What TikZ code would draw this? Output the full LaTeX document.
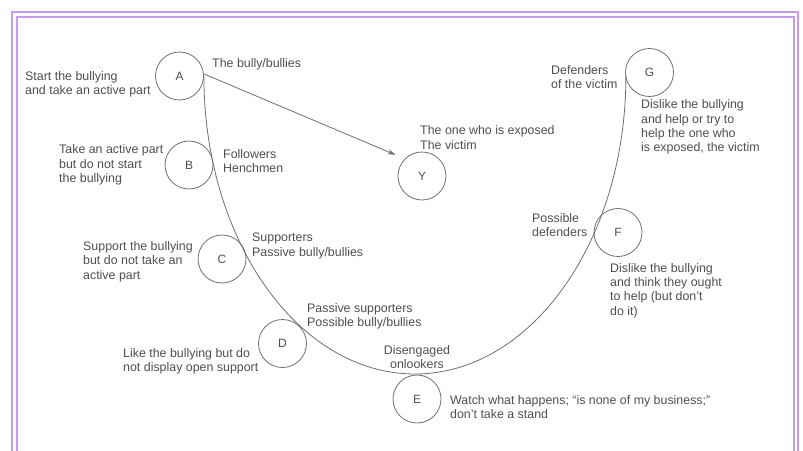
\documentclass[tikz,border=0pt]{standalone}
\usepackage{fontspec}
\setmainfont{Liberation Sans}
\usetikzlibrary{arrows.meta}
\definecolor{framelilac}{RGB}{198,156,242}
\definecolor{inkgray}{RGB}{78,78,78}
\definecolor{penGray}{RGB}{110,110,110}
\begin{document}
\begin{tikzpicture}[x=1pt,y=-1pt,
    role/.style={circle,draw=penGray,line width=0.8pt,minimum size=48pt,inner sep=0pt,text=inkgray,font=\fontsize{12pt}{14pt}\selectfont},
    note/.style={anchor=west,align=left,inner sep=0pt,text=inkgray,font=\fontsize{12.4pt}{14.3pt}\selectfont}]
      \useasboundingbox (0,0) rectangle (803,450);
      \draw[framelilac,line width=2pt] (12,12) rectangle (798,480);
      \draw[framelilac,line width=2pt] (17,17) rectangle (793.5,480);
      \draw
        (179.5,76) node[role] (A){A}
        (189,165) node[role] (B){B}
        (222,259) node[role] (C){C}
        (282.5,343.5) node[role] (D){D}
        (417,399) node[role] (E){E}
        (618,232.5) node[role] (F){F}
        (649.5,72.5) node[role] (G){G}
        (422,176) node[role] (Y){Y};
      \draw
        (25,84) node[note] (A-l){Start the bullying\\and take an active part}
        (212,64) node[note] (A-r){The bully/bullies}
        (59,165) node[note] (B-l){Take an active part\\but do not start\\the bullying}
        (223,161) node[note] (B-r){Followers\\Henchmen}
        (83,261.5) node[note] (C-l){Support the bullying\\but do not take an\\active part}
        (252,246) node[note] (C-r){Supporters\\Passive bully/bullies}
        (123,361) node[note] (D-l){Like the bullying but do\\not display open support}
        (307,316.5) node[note] (D-r){Passive supporters\\Possible bully/bullies}
        (417,357) node[note,anchor=center,align=center] (E-t){Disengaged\\onlookers}
        (450,407) node[note] (E-r){Watch what happens; “is none of my business;”\\don’t take a stand}
        (532,225) node[note] (F-l){Possible\\defenders}
        (610,290.5) node[note] (F-r){Dislike the bullying\\and think they ought\\to help (but don’t\\do it)}
        (551,77) node[note] (G-l){Defenders\\of the victim}
        (641,127) node[note] (G-r){Dislike the bullying\\and help or try to\\help the one who\\is exposed, the victim}
        (420,137.5) node[note] (Y-t){The one who is exposed\\The victim};
      \begin{scope}[penGray,line width=0.8pt]
        % the half ellipse from the bully round to the defenders
        \draw (A.east) arc[start angle=180,end angle=360,x radius=211pt,y radius=298pt];
        \draw[-{Stealth[length=8pt,width=5pt]},shorten >=10pt] (A.5) -- (Y.north west);
      \end{scope}
    \end{tikzpicture}
\end{document}
